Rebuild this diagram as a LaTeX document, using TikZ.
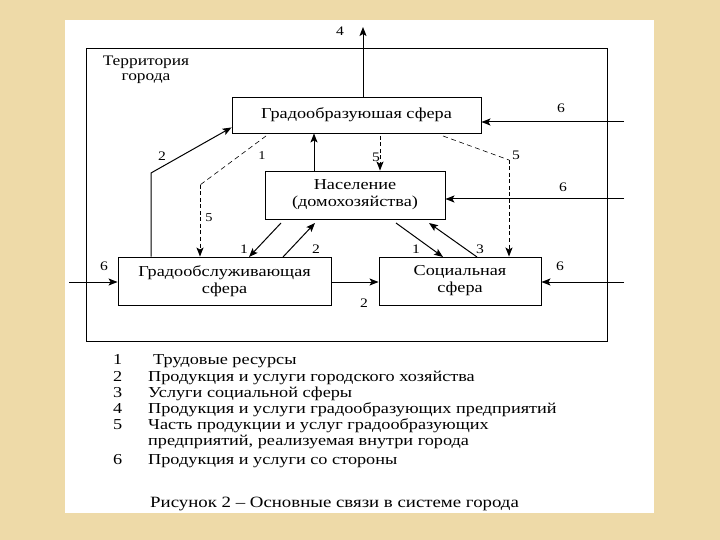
\documentclass[tikz,border=0pt]{standalone}
\usepackage{fontspec}
\setmainfont{Liberation Serif}[FakeStretch=1.2]
\usetikzlibrary{arrows.meta}
\definecolor{bgbeige}{RGB}{238,218,168}
\begin{document}
\begin{tikzpicture}[x=1pt,y=-1pt,
  box/.style={draw, line width=0.9pt, inner sep=0pt, align=center, font=\fontsize{15.2}{17}\selectfont},
  arr/.style={-{Stealth[length=9pt,width=7pt,inset=2pt]}, line width=1pt},
  dsh/.style={dash pattern=on 4pt off 2.5pt, line width=1.1pt},
  thindsh/.style={dash pattern=on 5pt off 3.5pt, line width=0.6pt},
  lbl/.style={inner sep=0pt, font=\fontsize{13}{15}\selectfont},
  leg/.style={inner sep=0pt, anchor=base west, font=\fontsize{15.2}{16}\selectfont}]
\useasboundingbox (0,0) rectangle (720,540);
\fill[bgbeige] (0,0) rectangle (720,540);
\fill[white] (65,20) rectangle (654,513);
% frame
\node[draw, line width=0.9pt, minimum width=521pt, minimum height=293pt] (frame) at (346.5,194.5) {};
\node[lbl, align=center, font=\fontsize{14.5}{15}\selectfont] (terr) at (146,70) {Территория\\города};
% boxes
\node[box, minimum width=249pt, minimum height=36pt] (gob) at (356.5,115) {Градообразуюшая сфера};
\node[box, minimum width=180pt, minimum height=48pt] (pop) at (355,195) {Население\\(домохозяйства)};
\node[box, minimum width=213pt, minimum height=48pt] (gserv) at (224.5,281) {Градообслуживающая\\сфера};
\node[box, minimum width=162pt, minimum height=48pt] (soc) at (460,281) {Социальная\\сфера};
% arrow 4
\coordinate (c4) at (363,27);
\draw[arr] (c4 |- gob.north) -- (c4);
\node[lbl] (l4) at (340,31) {4};
% external arrows 6
\coordinate (e1) at (624,122);
\coordinate (e2) at (624,199);
\coordinate (e3) at (624,282);
\coordinate (e4) at (69,282);
\draw[arr] (e1) -- (e1 -| gob.east);
\draw[arr] (e2) -- (e2 -| pop.east);
\draw[arr] (e3) -- (e3 -| soc.east);
\draw[arr] (e4) -- (e4 -| gserv.west);
\node[lbl] (l6a) at (561,108) {6};
\node[lbl] (l6b) at (563,187) {6};
\node[lbl] (l6c) at (560,266) {6};
\node[lbl] (l6d) at (104,266) {6};
% gserv -> soc
\draw[arr] (gserv.east |- e4) -- (soc.west |- e4);
\node[lbl] (l2c) at (364,303) {2};
% arrow 2 gserv -> gob
\coordinate (k2) at (151,173);
\draw[arr] (k2 |- gserv.north) -- (k2) -- ([yshift=6pt]gob.south west);
\node[lbl] (l2a) at (162,156) {2};
% dashed 1/5 gob -> gserv
\coordinate (d1s) at (266,136);
\coordinate (d1) at (200,185);
\draw[thindsh] (d1s) -- (d1);
\draw[dsh, arr] (d1) -- (d1 |- gserv.north);
\node[lbl, font=\fontsize{12}{12}\selectfont] (l1a) at (262,156) {1};
\node[lbl, font=\fontsize{12}{12}\selectfont] (l5a) at (209,218) {5};
% dashed 5 gob -> pop
\coordinate (d2) at (380,136);
\draw[dsh, arr] (d2) -- (d2 |- pop.north);
\node[lbl] (l5b) at (376,157) {5};
% dashed 5 gob -> soc
\coordinate (d3s) at (443,136);
\coordinate (d3) at (509,160);
\draw[thindsh] (d3s) -- (d3);
\draw[dsh, arr] (d3) -- (d3 |- soc.north);
\node[lbl] (l5c) at (516,155) {5};
% pop -> gob
\coordinate (u1) at (314,0);
\draw[arr] (u1 |- pop.north) -- (u1 |- gob.south);
% pop <-> gserv
\coordinate (p1s) at (281,223);
\coordinate (p1e) at (249,257);
\coordinate (p2s) at (283,257);
\coordinate (p2e) at (315,223);
\draw[arr] (p1s) -- (p1e);
\draw[arr] (p2s) -- (p2e);
\node[lbl] (l1b) at (244,249) {1};
\node[lbl] (l2b) at (316,249) {2};
% pop <-> soc
\coordinate (q1s) at (396,223);
\coordinate (q1e) at (443,257);
\coordinate (q3s) at (477,257);
\coordinate (q3e) at (429,223);
\draw[arr] (q1s) -- (q1e);
\draw[arr] (q3s) -- (q3e);
\node[lbl] (l1c) at (416,249) {1};
\node[lbl] (l3) at (480,249) {3};
% legend
\node[leg] (n1) at (113,364) {1};
\node[leg] (t1) at (153,364) {Трудовые ресурсы};
\node[leg] (n2) at (113,381) {2};
\node[leg] (t2) at (148,381) {Продукция и услуги городского хозяйства};
\node[leg] (n3) at (113,397) {3};
\node[leg] (t3) at (148,397) {Услуги социальной сферы};
\node[leg] (n4) at (113,413) {4};
\node[leg] (t4) at (148,413) {Продукция и услуги градообразующих предприятий};
\node[leg] (n5) at (113,429) {5};
\node[leg] (t5) at (148,429) {Часть продукции и услуг градообразующих};
\node[leg] (t5b) at (148,445) {предприятий, реализуемая внутри города};
\node[leg] (n6) at (113,464) {6};
\node[leg] (t6) at (148,464) {Продукция и услуги со стороны};
\node[leg, font=\fontsize{15.7}{16}\selectfont] (cap) at (150,507) {Рисунок 2 – Основные связи в системе города};
\end{tikzpicture}
\end{document}
